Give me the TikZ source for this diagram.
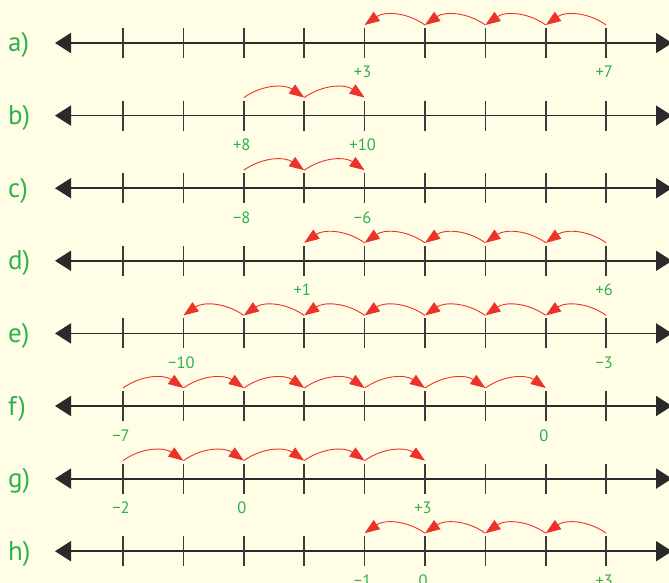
\documentclass[tikz,border=0pt]{standalone}
\usepackage{fontspec}
\setmainfont{PT Sans}
\usetikzlibrary{arrows.meta}
\definecolor{bg}{HTML}{FFFDE6}
\definecolor{grn}{HTML}{2EB24B}
\definecolor{redarc}{HTML}{EC3229}
\definecolor{axiscol}{HTML}{2A2A2A}
\definecolor{tickcol}{HTML}{3A3A3A}
\begin{document}
\begin{tikzpicture}[x=1pt,y=-1pt,
  axisline/.style={draw=axiscol, line width=1.8pt, {Triangle[length=16pt,width=20pt]}-{Triangle[length=16pt,width=20pt]}},
  tickmark/.style={draw=tickcol, line width=1.5pt},
  hop/.style={draw=redarc, line width=0.9pt, -{Triangle[length=15pt,width=11pt]}},
  numlab/.style={text=grn, font=\fontsize{16.5}{16.5}\selectfont, anchor=base, inner sep=0pt},
  rowlab/.style={text=grn, font=\fontsize{27}{27}\selectfont, anchor=base west, inner sep=0pt}]
\fill[bg] (0,0) rectangle (669,583);
\clip (0,0) rectangle (669,583);
\foreach \L/\r/\dir/\hops/\labs in {
  a/0/-1/{8,7,6,5}/{4/+3,8/+7},
  b/1/1/{2,3}/{2/+8,4/+10},
  c/2/1/{2,3}/{2/−8,4/−6},
  d/3/-1/{8,7,6,5,4}/{3/+1,8/+6},
  e/4/-1/{8,7,6,5,4,3,2}/{1/−10,8/−3},
  f/5/1/{0,1,2,3,4,5,6}/{0/−7,7/0},
  g/6/1/{0,1,2,3,4}/{0/−2,2/0,5/+3},
  h/7/-1/{8,7,6,5}/{4/−1,5/0,8/+3}}{
  \pgfmathsetmacro\yy{43+72.6*\r}
  \node[rowlab] (lab-\L) at (8,\yy+9) {\L)};
  \coordinate (\L-left) at (55,\yy);
  \coordinate (\L-right) at (672,\yy);
  \draw[axisline] (\L-left) -- (\L-right);
  \foreach \k in {0,...,8}{
    \pgfmathsetmacro\xx{123+60.4*\k}
    \coordinate (\L-\k) at (\xx,\yy);
    \coordinate (\L-h-\k) at (\xx,\yy-18);
    \draw[tickmark] (\L-\k) ++(0,-15) -- ++(0,30);
  }
  \foreach \k in \hops{
    \pgfmathtruncatemacro\n{\k+\dir}
    \ifnum\dir<0
      \draw[hop] (\L-h-\k) to[bend right=35] (\L-h-\n);
    \else
      \draw[hop] (\L-h-\k) to[bend left=35] (\L-h-\n);
    \fi
  }
  \foreach \p/\t in \labs{
    \node[numlab] (num-\L-\p) at ([xshift=-2pt,yshift=-35pt]\L-\p) {\t};
  }
}
\end{tikzpicture}
\end{document}
